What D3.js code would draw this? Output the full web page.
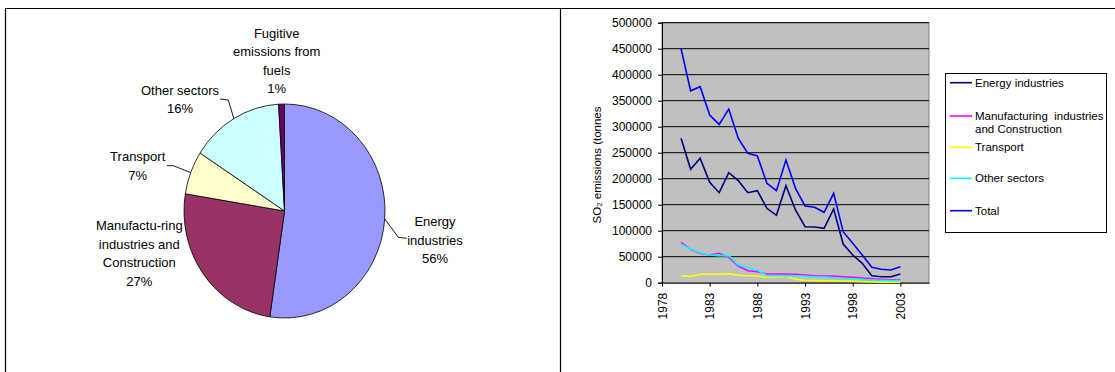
<!DOCTYPE html>
<html>
<head>
<meta charset="utf-8">
<script src="https://cdn.jsdelivr.net/npm/d3@7"></script>
<style>
  body { margin: 0; background: #fff; }
  svg { display: block; font-family: "Liberation Sans", Arial, sans-serif; }
</style>
</head>
<body>
<svg id="chart" width="1115" height="372"></svg>
<script>
// ---- Pie: share of SO2 emissions by sector (%) ----
const pieSectors = ["Energy industries", "Manufacturing industries and Construction", "Transport", "Other sectors", "Fugitive emissions from fuels"];
const pieShares = [56, 27, 7, 16, 1];
const pieColors = ["#9999FF", "#993366", "#FFFFCC", "#CCFFFF", "#660066"];
const pieLabelLines = [["Energy", "industries"], ["Manufactu-ring", "industries and", "Construction"], ["Transport"], ["Other sectors"], ["Fugitive", "emissions from", "fuels"]];

// ---- Lines: SO2 emissions by sector, tonnes ----
const years = [1980, 1981, 1982, 1983, 1984, 1985, 1986, 1987, 1988, 1989, 1990, 1991,
               1992, 1993, 1994, 1995, 1996, 1997, 1998, 1999, 2000, 2001, 2002, 2003];
const energyIndustries = [277700, 218000, 239200, 193000, 173100, 211500, 196200, 173100, 176900, 143100, 129600, 186500,
                          139800, 107700, 107100, 104600, 141700, 74400, 53300, 37300, 13500, 11500, 11500, 16700];
const manufacturing = [77700, 64200, 56500, 53300, 56500, 48800, 32100, 23100, 21200, 16700, 16700, 16700,
                       16200, 14800, 13500, 12900, 12900, 11500, 10400, 9000, 7700, 6500, 5800, 5800];
const transport = [13500, 12200, 16200, 16200, 16200, 17400, 14200, 13500, 12900, 11000, 11000, 12200,
                   6500, 4600, 4000, 3800, 3500, 3200, 2500, 2000, 1500, 1200, 1000, 1000];
const otherSectors = [74000, 64800, 57700, 53300, 52000, 52000, 34000, 28800, 24400, 13500, 13500, 13500,
                      13000, 12500, 11500, 11000, 9000, 7700, 7000, 6000, 5000, 4500, 4000, 4000];
const total = [450000, 369000, 377000, 322400, 304500, 334000, 277700, 248800, 243600, 191100, 176900, 236000,
               181500, 147500, 145000, 135400, 171900, 98100, 75800, 53300, 29600, 25800, 24400, 30800];
const seriesNames = ["Energy industries", "Manufacturing  industries|and Construction", "Transport", "Other sectors", "Total"];
const seriesColors = ["#000080", "#FF00FF", "#FFFF00", "#00FFFF", "#0000FF"];
const yTicks = [0, 50000, 100000, 150000, 200000, 250000, 300000, 350000, 400000, 450000, 500000];
const xTicks = [1978, 1983, 1988, 1993, 1998, 2003];

const svg = d3.select("#chart");

// ---- table frame ----
svg.append("path")
  .attr("d", "M5.5,372 V8.5 H1115 M560.5,8.5 V372")
  .attr("fill", "none").attr("stroke", "#000").attr("stroke-width", 1.2);

// ================= PIE =================
const cx = 284.5, cy = 211, ry = 107, rx = 100.5;
const pieGen = d3.pie().sort(null).value(d => d)(pieShares);
const arcGen = d3.arc().innerRadius(0).outerRadius(ry);
const pieG = svg.append("g")
  .attr("transform", `translate(${cx},${cy}) scale(${rx / ry},1)`);
pieG.selectAll("path").data(pieGen).join("path")
  .attr("d", arcGen)
  .attr("fill", (d, i) => pieColors[i])
  .attr("stroke", "#000")
  .attr("stroke-width", 0.8)
  .attr("vector-effect", "non-scaling-stroke");

// label positions (first line centre) and leader elbows
const labelPos = [
  { x: 435, y: 221.7, leader: [[398.3, 237.3], [406.7, 238.3]] },
  { x: 139.3, y: 225.7, leader: null },
  { x: 137.7, y: 156.7, leader: [[173.3, 165.7], [166.7, 165.7]] },
  { x: 180, y: 90, leader: [[228.3, 100], [220, 99]] },
  { x: 276.7, y: 33.3, leader: null }
];
const lineH = 18.5;
const edgePoint = d => {
  const a = (d.startAngle + d.endAngle) / 2;
  return [cx + rx * Math.sin(a), cy - ry * Math.cos(a)];
};
pieGen.forEach((d, i) => {
  const p = labelPos[i];
  const lines = pieLabelLines[i].concat([pieShares[i] + "%"]);
  const t = svg.append("text")
    .attr("text-anchor", "middle")
    .attr("font-size", 13)
    .attr("fill", "#000");
  lines.forEach((s, k) => {
    t.append("tspan").attr("x", p.x).attr("y", p.y + k * lineH + 4.6).text(s);
  });
  if (p.leader) {
    const pts = [edgePoint(d)].concat(p.leader);
    svg.append("path")
      .attr("d", d3.line()(pts))
      .attr("fill", "none").attr("stroke", "#000").attr("stroke-width", 0.9);
  }
});

// ================= LINE CHART =================
const x = d3.scaleLinear().domain([1978, 2006]).range([662, 929]);
const y = d3.scaleLinear().domain([0, 500000]).range([282.7, 22.7]);

svg.append("rect")
  .attr("x", x(1978)).attr("y", y(500000))
  .attr("width", x(2006) - x(1978)).attr("height", y(0) - y(500000))
  .attr("fill", "#C0C0C0").attr("stroke", "#808080").attr("stroke-width", 1);

svg.append("g").selectAll("line").data(yTicks.filter(v => v > 0)).join("line")
  .attr("x1", x(1978)).attr("x2", x(2006))
  .attr("y1", d => y(d)).attr("y2", d => y(d))
  .attr("stroke", "#000").attr("stroke-width", 1);

const yAxis = svg.append("g")
  .attr("transform", `translate(${x(1978)},0)`)
  .call(d3.axisLeft(y).tickValues(yTicks).tickSize(4).tickPadding(6).tickFormat(d3.format("d")));
yAxis.selectAll("text").attr("font-size", 12).attr("font-family", "Liberation Sans, Arial, sans-serif").attr("fill", "#000");
yAxis.selectAll("line, path").attr("stroke", "#000");

const xAxis = svg.append("g")
  .attr("transform", `translate(0,${y(0)})`)
  .call(d3.axisBottom(x).tickValues(xTicks).tickSize(4).tickSizeOuter(0).tickFormat(d3.format("d")));
xAxis.selectAll("text")
  .attr("font-size", 12).attr("font-family", "Liberation Sans, Arial, sans-serif").attr("fill", "#000")
  .attr("transform", "rotate(-90)")
  .attr("x", -10).attr("y", 0).attr("dy", "0.35em")
  .attr("text-anchor", "end");
xAxis.selectAll("line, path").attr("stroke", "#000");

// y-axis title
const yTitle = svg.append("text")
  .attr("transform", "translate(597,165) rotate(-90)")
  .attr("text-anchor", "middle")
  .attr("dominant-baseline", "central")
  .attr("font-size", 11.5);
yTitle.append("tspan").text("SO");
yTitle.append("tspan").attr("font-size", 8).attr("dy", 2).text("2");
yTitle.append("tspan").attr("dy", -2).text(" emissions (tonnes");

const seriesData = [energyIndustries, manufacturing, transport, otherSectors, total];
const lineGen = d3.line().x((d, i) => x(years[i])).y(d => y(d));
svg.append("g").selectAll("path").data(seriesData).join("path")
  .attr("d", lineGen)
  .attr("fill", "none")
  .attr("stroke", (d, i) => seriesColors[i])
  .attr("stroke-width", 1.6)
  .attr("stroke-linejoin", "miter");

// ---- legend ----
svg.append("rect")
  .attr("x", 945.5).attr("y", 73.5).attr("width", 161).attr("height", 159)
  .attr("fill", "#fff").attr("stroke", "#000").attr("stroke-width", 1);
const legendY = [82.7, 116, 147.3, 178.3, 210.7];
seriesNames.forEach((name, i) => {
  svg.append("line")
    .attr("x1", 950).attr("x2", 972)
    .attr("y1", legendY[i]).attr("y2", legendY[i])
    .attr("stroke", seriesColors[i]).attr("stroke-width", 1.6);
  const t = svg.append("text").attr("font-size", 11.5).style("white-space", "pre");
  name.split("|").forEach((s, k) => {
    t.append("tspan").attr("x", 975).attr("y", legendY[i] + 4 + k * 13).text(s);
  });
});
</script>
</body>
</html>
